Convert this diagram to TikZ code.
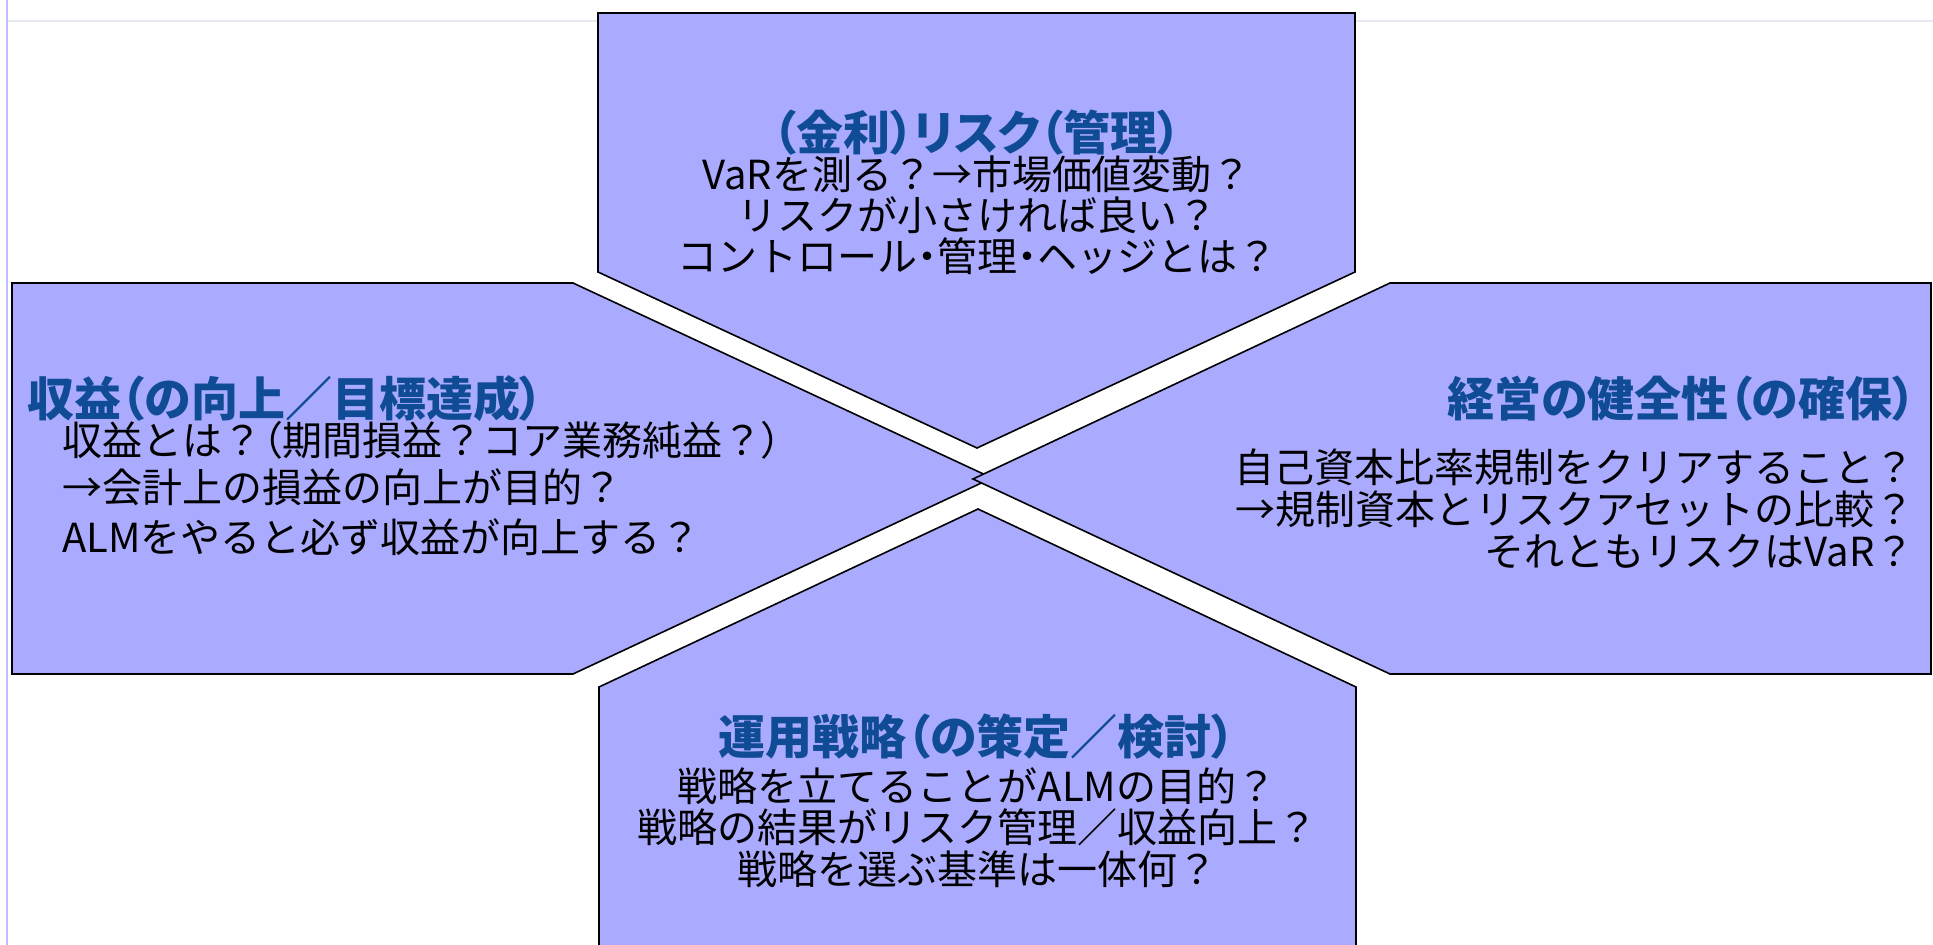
\documentclass[tikz,border=0pt]{standalone}
\usepackage{fontspec}
\newfontfamily\jp{Noto Sans CJK JP}
\newfontfamily\jpt[RawFeature=+palt]{Noto Sans CJK JP}
\newcommand\narrowdot{{\addfontfeature{RawFeature=+palt}・}}
\newcommand\narrowlp{{\addfontfeature{RawFeature=+palt}（}}
\newcommand\narrowrp{{\addfontfeature{RawFeature=+palt}）}}
\definecolor{shapefill}{RGB}{170,170,255}
\definecolor{titleblue}{RGB}{16,76,150}
\definecolor{guideblue}{RGB}{190,190,255}
\definecolor{guidegray}{RGB}{232,232,242}
\tikzset{
  panel/.style={draw=black, line width=1.6bp, fill=shapefill, line join=miter},
  ttl/.style={inner sep=0pt, text height=42bp, text depth=4bp,
    font=\jpt\bfseries\fontsize{47bp}{49bp}\selectfont, text=titleblue},
  body/.style={inner sep=0pt, text height=35bp, text depth=4bp,
    font=\jp\fontsize{40bp}{42bp}\selectfont, text=black},
}
\begin{document}
\begin{tikzpicture}[x=1bp, y=-1bp]
\useasboundingbox (0,0) rectangle (1933,945);
\fill[white] (0,0) rectangle (1933,945);
% faint guide lines
\draw[guidegray, line width=2bp] (7,21) -- (1933,21);
\draw[guideblue, line width=2bp] (7,0) -- (7,945);
% top pentagon
\draw[panel] (598,13) -- (1355,13) -- (1355,272) -- (977,448) -- (598,272) -- cycle;
% left shape
\draw[panel] (12,283) -- (573,283) -- (992,478) -- (573,674) -- (12,674) -- cycle;
% right shape
\draw[panel] (1390,283) -- (1931,283) -- (1931,674) -- (1390,674) -- (973,479) -- cycle;
% bottom pentagon
\draw[panel] (978,509) -- (1356,687) -- (1356,960) -- (599,960) -- (599,687) -- cycle;

% top texts
\node[ttl]  (t0) at (977,131) {（金利）リスク（管理）};
\node[body] (t1) at (977,174) {VaRを測る？→市場価値変動？};
\node[body] (t2) at (977,215) {リスクが小さければ良い？};
\node[body] (t3) at (977,256) {コントロール\narrowdot 管理\narrowdot ヘッジとは？};
% left texts
\node[ttl, anchor=west]  (l0) at (27,397) {収益（の向上／目標達成）};
\node[body, anchor=west] (l1) at (62,440) {収益とは？\narrowlp 期間損益？コア業務純益？\narrowrp};
\node[body, anchor=west] (l2) at (62,487) {→会計上の損益の向上が目的？};
\node[body, anchor=west] (l3) at (62,537) {ALMをやると必ず収益が向上する？};
% right texts
\node[ttl, anchor=east]  (r0) at (1916,397) {経営の健全性（の確保）};
\node[body, anchor=east] (r1) at (1915,467) {自己資本比率規制をクリアすること？};
\node[body, anchor=east] (r2) at (1915,509) {→規制資本とリスクアセットの比較？};
\node[body, anchor=east] (r3) at (1915,551) {それともリスクはVaR？};
% bottom texts
\node[ttl]  (b0) at (977,735) {運用戦略（の策定／検討）};
\node[body] (b1) at (977,786) {戦略を立てることがALMの目的？};
\node[body] (b2) at (977,827) {戦略の結果がリスク管理／収益向上？};
\node[body] (b3) at (977,869) {戦略を選ぶ基準は一体何？};
\end{tikzpicture}
\end{document}
